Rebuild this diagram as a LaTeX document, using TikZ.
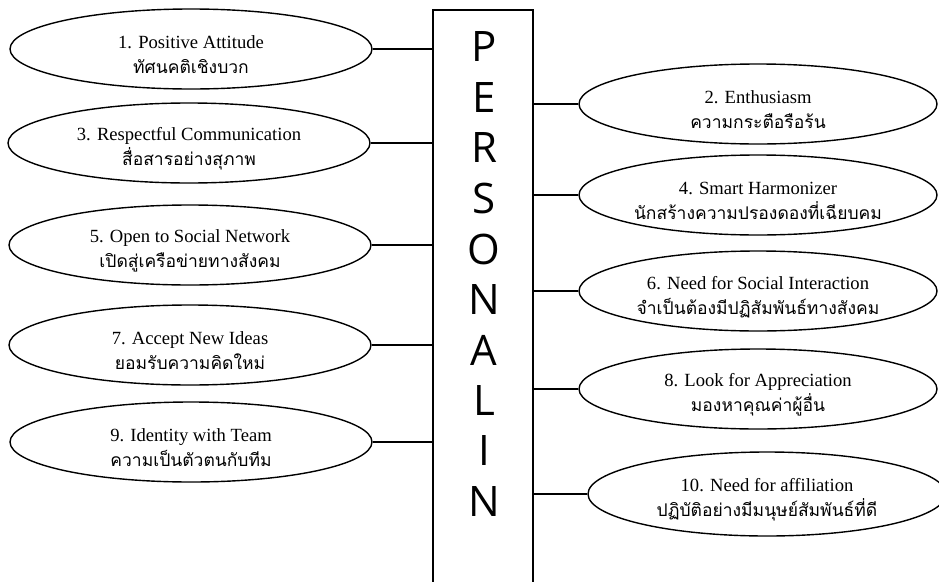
\documentclass[tikz,border=0pt]{standalone}
\usepackage{fontspec}
\setmainfont{Liberation Serif}
\newfontfamily\thaifont[Script=Thai]{Loma}
\newfontfamily\capfont{Open Sans}
\usepackage{tikz}
\usetikzlibrary{shapes.geometric}

\newcommand{\trait}[2]{\rule{0pt}{25pt}#1\\{\thaifont\fontsize{17.5}{25}\selectfont #2}}

\begin{document}
\begin{tikzpicture}[x=1pt,y=-1pt,
trait/.style={draw, ellipse, line width=1.4pt, fill=white, inner sep=0pt,
  minimum width=362pt, minimum height=80pt, align=center,
  font=\fontsize{18.6}{25}\selectfont},
letter/.style={font=\capfont\fontsize{42}{42}\selectfont, inner sep=0pt},
link/.style={line width=1.3pt}]
\useasboundingbox (0,0) rectangle (939,581);
\clip (0,0) rectangle (939,581);
% central box
\node[draw, line width=1.5pt, fill=white, minimum width=100pt, minimum height=590pt,
  inner sep=0pt] (box) at (483,305) {};
\node[letter] (l1) at (484,47) {P};
\node[letter] (l2) at (484,97.5) {E};
\node[letter] (l3) at (484,148) {R};
\node[letter] (l4) at (484,198.5) {S};
\node[letter] (l5) at (484,249) {O};
\node[letter] (l6) at (484,299.5) {N};
\node[letter] (l7) at (484,350) {A};
\node[letter] (l8) at (484,400.5) {L};
\node[letter] (l9) at (484,451) {I};
\node[letter] (l10) at (484,501.5) {N};
% left side
\node[trait] (t1) at (191,49) {\trait{1. Positive Attitude}{ทัศนคติเชิงบวก}};
\node[trait] (t3) at (189,143) {\trait{3. Respectful Communication}{สื่อสารอย่างสุภาพ}};
\node[trait] (t5) at (190,245) {\trait{5. Open to Social Network}{เปิดสู่เครือข่ายทางสังคม}};
\node[trait] (t7) at (190,345) {\trait{7. Accept New Ideas}{ยอมรับความคิดใหม่}};
\node[trait] (t9) at (191,442) {\trait{9. Identity with Team}{ความเป็นตัวตนกับทีม}};
\draw[link] (t1.east) -- (t1.east -| box.west);
\draw[link] (t3.east) -- (t3.east -| box.west);
\draw[link] (t5.east) -- (t5.east -| box.west);
\draw[link] (t7.east) -- (t7.east -| box.west);
\draw[link] (t9.east) -- (t9.east -| box.west);
% right side
\node[trait, minimum width=358pt] (t2) at (758,104) {\trait{2. Enthusiasm}{ความกระตือรือร้น}};
\node[trait, minimum width=358pt] (t4) at (758,195) {\trait{4. Smart Harmonizer}{นักสร้างความปรองดองที่เฉียบคม}};
\node[trait, minimum width=358pt] (t6) at (758,291) {\trait{6. Need for Social Interaction}{จำเป็นต้องมีปฏิสัมพันธ์ทางสังคม}};
\node[trait, minimum width=358pt] (t8) at (758,389) {\trait{8. Look for Appreciation}{มองหาคุณค่าผู้อื่น}};
\node[trait, minimum width=358pt, minimum height=84pt] (t10) at (767,494) {\trait{10. Need for affiliation}{ปฏิบัติอย่างมีมนุษย์สัมพันธ์ที่ดี}};
\draw[link] (t2.west) -- (t2.west -| box.east);
\draw[link] (t4.west) -- (t4.west -| box.east);
\draw[link] (t6.west) -- (t6.west -| box.east);
\draw[link] (t8.west) -- (t8.west -| box.east);
\draw[link] (t10.west) -- (t10.west -| box.east);
\end{tikzpicture}
\end{document}
